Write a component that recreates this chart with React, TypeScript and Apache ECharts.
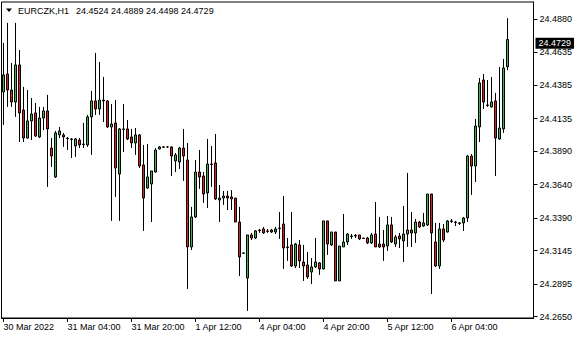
import React, { useEffect, useRef } from "react";
import * as echarts from "echarts";

const symbolName = "EURCZK,H1";

const xTickLabels = [
  "30 Mar 2022", "31 Mar 04:00", "31 Mar 20:00", "1 Apr 12:00",
  "4 Apr 04:00", "4 Apr 20:00", "5 Apr 12:00", "6 Apr 04:00",
];

const yTickValues = [
  24.265, 24.2895, 24.3145, 24.339, 24.364, 24.389, 24.4135, 24.4385, 24.4635, 24.488,
];

const opens = [
  24.4335, 24.4470, 24.4350, 24.4260, 24.4538, 24.4200, 24.3990, 24.4118, 24.4178, 24.3998,
  24.4140, 24.4193, 24.3915, 24.3698, 24.4013, 24.4013, 24.3990, 24.3983, 24.3930, 24.3975,
  24.3945, 24.3938, 24.4148, 24.4268, 24.4208, 24.4275, 24.4268, 24.4073, 24.4103, 24.3720,
  24.4058, 24.4058, 24.3998, 24.3953, 24.4013, 24.3788, 24.3615, 24.3645, 24.3735, 24.3908,
  24.3923, 24.3923, 24.3923, 24.3818, 24.3810, 24.3915, 24.3825, 24.3173, 24.3398, 24.3735,
  24.3705, 24.3578, 24.3795, 24.3803, 24.3525, 24.3540, 24.3555, 24.3548, 24.3540, 24.3360,
  24.3128, 24.2940, 24.3263, 24.3240, 24.3300, 24.3308, 24.3293, 24.3300, 24.3285, 24.3315,
  24.3345, 24.3173, 24.3188, 24.3030, 24.3188, 24.3060, 24.3038, 24.2985, 24.3023, 24.3053,
  24.3008, 24.3368, 24.3188, 24.3285, 24.2918, 24.3173, 24.3210, 24.3255, 24.3255, 24.3263,
  24.3240, 24.3240, 24.3203, 24.3270, 24.3195, 24.3195, 24.3180, 24.3338, 24.3195, 24.3255,
  24.3218, 24.3270, 24.3300, 24.3278, 24.3360, 24.3330, 24.3338, 24.3570, 24.3210, 24.3030,
  24.3308, 24.3285, 24.3368, 24.3360, 24.3353, 24.3353, 24.3390, 24.3855, 24.3780, 24.4073,
  24.4425, 24.4238, 24.4223, 24.4268, 24.3983, 24.4058, 24.4524,
];

const highs = [
  24.4703, 24.4853, 24.4553, 24.4853, 24.4650, 24.4373, 24.4350, 24.4290, 24.4253, 24.4223,
  24.4223, 24.4313, 24.3990, 24.4043, 24.4073, 24.4028, 24.3998, 24.3990, 24.3990, 24.3990,
  24.4103, 24.4163, 24.4343, 24.4628, 24.4560, 24.4448, 24.4275, 24.4245, 24.4275, 24.4065,
  24.4245, 24.4125, 24.4058, 24.4065, 24.4020, 24.3938, 24.3945, 24.3743, 24.3915, 24.3930,
  24.3930, 24.3926, 24.3926, 24.3878, 24.3923, 24.4058, 24.3953, 24.3473, 24.3825, 24.3900,
  24.3735, 24.3983, 24.3930, 24.4020, 24.3638, 24.3593, 24.3593, 24.3600, 24.3540, 24.3473,
  24.3128, 24.3263, 24.3278, 24.3300, 24.3308, 24.3323, 24.3308, 24.3308, 24.3323, 24.3435,
  24.3555, 24.3240, 24.3435, 24.3203, 24.3225, 24.3188, 24.3135, 24.3090, 24.3240, 24.3060,
  24.3368, 24.3368, 24.3285, 24.3285, 24.3180, 24.3420, 24.3278, 24.3270, 24.3270, 24.3263,
  24.3240, 24.3248, 24.3278, 24.3510, 24.3398, 24.3300, 24.3405, 24.3398, 24.3263, 24.3278,
  24.3480, 24.3728, 24.3435, 24.3383, 24.3368, 24.3428, 24.3570, 24.3570, 24.3353, 24.3353,
  24.3345, 24.3375, 24.3383, 24.3368, 24.3360, 24.3398, 24.3863, 24.3870, 24.4133, 24.4440,
  24.4470, 24.4425, 24.4448, 24.4328, 24.4523, 24.4583, 24.4889,
];

const lows = [
  24.4088, 24.4223, 24.4223, 24.4148, 24.3960, 24.3960, 24.3986, 24.3975, 24.3998, 24.3990,
  24.4050, 24.3623, 24.3773, 24.3690, 24.3990, 24.3923, 24.3900, 24.3840, 24.3848, 24.3915,
  24.3915, 24.3923, 24.3863, 24.4163, 24.4163, 24.4110, 24.4065, 24.3368, 24.3548, 24.3368,
  24.3885, 24.3975, 24.3915, 24.3863, 24.3765, 24.3293, 24.3611, 24.3360, 24.3731, 24.3904,
  24.3915, 24.3915, 24.3705, 24.3735, 24.3758, 24.3668, 24.2858, 24.3150, 24.3390, 24.3608,
  24.3503, 24.3465, 24.3623, 24.3525, 24.3360, 24.3488, 24.3450, 24.3450, 24.3360, 24.2955,
  24.3120, 24.2693, 24.3225, 24.3233, 24.3278, 24.3270, 24.3278, 24.3278, 24.3270, 24.3233,
  24.3008, 24.3068, 24.3023, 24.3015, 24.3015, 24.2918, 24.2933, 24.2895, 24.3015, 24.2963,
  24.3004, 24.3113, 24.3180, 24.2918, 24.2918, 24.3173, 24.3188, 24.3233, 24.3240, 24.3225,
  24.3233, 24.3195, 24.3195, 24.3173, 24.3165, 24.3068, 24.3143, 24.3203, 24.3173, 24.3165,
  24.3060, 24.3173, 24.3173, 24.3203, 24.3315, 24.3323, 24.3330, 24.2820, 24.3023, 24.3008,
  24.3210, 24.3281, 24.3353, 24.3330, 24.3338, 24.3293, 24.3360, 24.3563, 24.3660, 24.3960,
  24.4208, 24.4223, 24.4219, 24.3705, 24.3975, 24.4028, 24.4498,
];

const closes = [
  24.4463, 24.4350, 24.4260, 24.4538, 24.4178, 24.3990, 24.4118, 24.4170, 24.4005, 24.4140,
  24.4193, 24.4058, 24.3855, 24.4028, 24.4043, 24.3998, 24.3986, 24.3979, 24.3983, 24.3938,
  24.3941, 24.4148, 24.4268, 24.4208, 24.4275, 24.4268, 24.4073, 24.4095, 24.3765, 24.4058,
  24.4054, 24.3983, 24.3953, 24.4013, 24.3780, 24.3540, 24.3698, 24.3743, 24.3900, 24.3923,
  24.3921, 24.3923, 24.3855, 24.3863, 24.3915, 24.3855, 24.3173, 24.3398, 24.3735, 24.3698,
  24.3570, 24.3795, 24.3791, 24.3533, 24.3540, 24.3555, 24.3540, 24.3533, 24.3360, 24.3098,
  24.3125, 24.3263, 24.3240, 24.3293, 24.3296, 24.3278, 24.3289, 24.3285, 24.3308, 24.3311,
  24.3165, 24.3169, 24.3030, 24.3195, 24.3068, 24.3030, 24.2948, 24.3023, 24.3060, 24.3008,
  24.3368, 24.3195, 24.3285, 24.2918, 24.3180, 24.3210, 24.3270, 24.3251, 24.3259, 24.3233,
  24.3236, 24.3203, 24.3263, 24.3173, 24.3173, 24.3173, 24.3338, 24.3210, 24.3248, 24.3233,
  24.3270, 24.3300, 24.3278, 24.3360, 24.3323, 24.3353, 24.3570, 24.3278, 24.3030, 24.3308,
  24.3225, 24.3368, 24.3364, 24.3356, 24.3349, 24.3390, 24.3855, 24.3780, 24.4080, 24.4403,
  24.4260, 24.4234, 24.4260, 24.3990, 24.4065, 24.4515, 24.4729,
];

const emptySlotsRight = 6;
const ticksEvery = 16;

const FONT = "'Liberation Sans', Arial, sans-serif";

export default function App() {
  const ref = useRef<HTMLDivElement>(null);

  useEffect(() => {
    if (!ref.current) return;
    const chart = echarts.init(ref.current, null, { renderer: "svg" });
    const n = closes.length;
    const total = n + emptySlotsRight;
    const categories: string[] = [];
    for (let i = 0; i < total; i++) categories.push(String(i));
    const data: any[] = closes.map((c, i) => [opens[i], c, lows[i], highs[i]]);
    const last = n - 1;
    const headerValues = [opens[last], highs[last], lows[last], closes[last]]
      .map((v) => v.toFixed(4))
      .join(" ");

    chart.setOption({
      animation: false,
      backgroundColor: "#ffffff",
      grid: {
        left: 1.5,
        right: 46.5,
        top: 2,
        bottom: 22,
        show: true,
        borderColor: "#000",
        borderWidth: 1,
        backgroundColor: "transparent",
      },
      xAxis: {
        type: "category",
        data: categories,
        boundaryGap: true,
        axisLine: { show: true, lineStyle: { color: "#000", width: 1 } },
        axisTick: {
          show: true,
          alignWithLabel: true,
          length: 4,
          interval: (i: number) => i % ticksEvery === 0 && i / ticksEvery < xTickLabels.length,
          lineStyle: { color: "#000" },
        },
        axisLabel: {
          show: true,
          interval: (i: number) => i % ticksEvery === 0 && i / ticksEvery < xTickLabels.length,
          formatter: (_v: string, idx: number) => xTickLabels[Math.round(idx / ticksEvery)] ?? "",
          align: "left",
          margin: 4,
          color: "#000",
          fontSize: 9,
          fontFamily: FONT,
        },
        splitLine: { show: false },
      },
      yAxis: {
        type: "value",
        position: "right",
        scale: true,
        min: 24.264,
        max: 24.501,
        axisLine: { show: true, lineStyle: { color: "#000", width: 1 } },
        axisTick: {
          show: true,
          length: 4,
          customValues: yTickValues,
          lineStyle: { color: "#000" },
        },
        axisLabel: {
          show: true,
          customValues: yTickValues,
          formatter: (v: number) => v.toFixed(4),
          margin: 6,
          color: "#000",
          fontSize: 9,
          fontFamily: FONT,
        },
        splitLine: { show: false },
      },
      series: [
        {
          type: "candlestick",
          data,
          barWidth: 2,
          itemStyle: {
            color: "#3cb44b",
            color0: "#dc1e1e",
            borderColor: "#000",
            borderColor0: "#000",
            borderWidth: 1,
          },
          markLine: {
            silent: true,
            symbol: "none",
            lineStyle: { color: "rgba(0,0,0,0)", width: 0 },
            data: [{ yAxis: closes[last] }],
            label: {
              show: true,
              position: "end",
              distance: 2,
              formatter: closes[last].toFixed(4),
              backgroundColor: "#000",
              color: "#fff",
              padding: [1, 3, 1, 3],
              fontSize: 9,
              fontFamily: FONT,
            },
          },
        },
      ],
      graphic: [
        {
          type: "polygon",
          shape: { points: [[6, 8.5], [12, 8.5], [9, 12]] },
          style: { fill: "#000" },
        },
        {
          type: "text",
          x: 18,
          y: 10.5,
          style: {
            text: symbolName,
            fill: "#000",
            fontSize: 9,
            fontFamily: FONT,
            verticalAlign: "middle",
          },
        },
        {
          type: "text",
          x: 76,
          y: 10.5,
          style: {
            text: headerValues,
            fill: "#000",
            fontSize: 9,
            fontFamily: FONT,
            verticalAlign: "middle",
          },
        },
      ],
    });
    return () => chart.dispose();
  }, []);

  return (
    <div
      ref={ref}
      style={{ position: "fixed", left: 0, top: 0, width: 580, height: 340, background: "#fff" }}
    />
  );
}
